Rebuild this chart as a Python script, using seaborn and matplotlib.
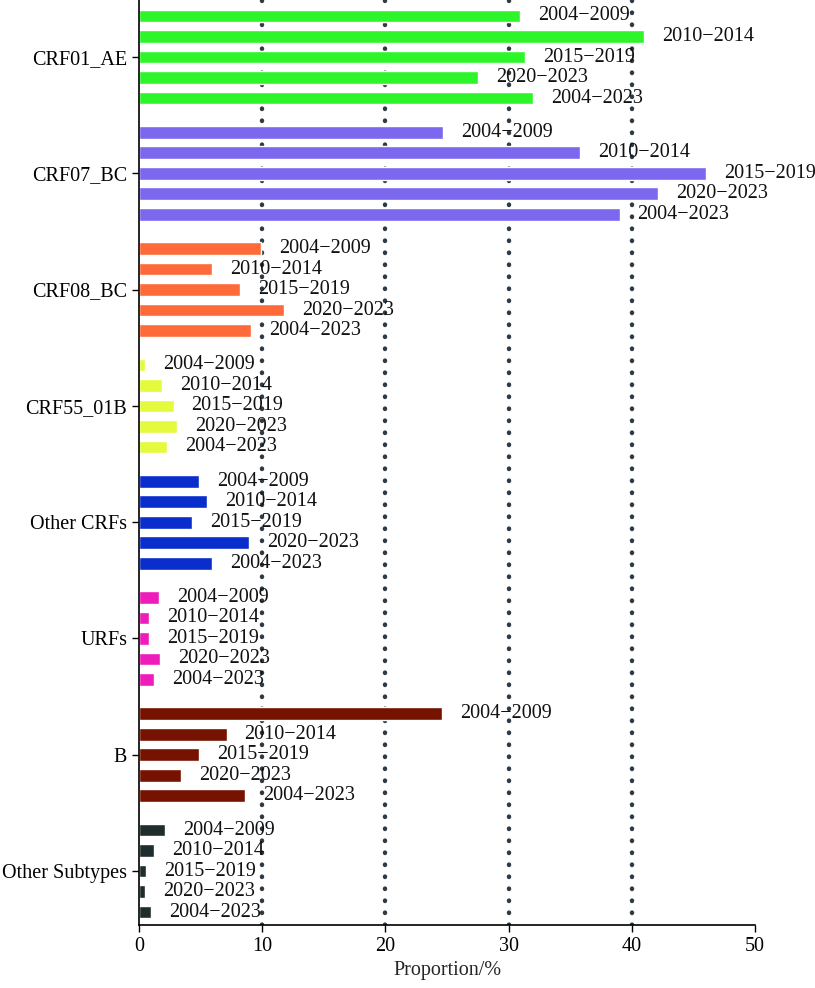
import matplotlib
matplotlib.use("Agg")
import matplotlib.pyplot as plt
import seaborn as sns
import numpy as np
import pandas as pd

# data
subtypes = ["CRF01_AE", "CRF07_BC", "CRF08_BC", "CRF55_01B",
            "Other CRFs", "URFs", "B", "Other Subtypes"]
periods = ["2004\u22122009", "2010\u22122014", "2015\u22122019",
           "2020\u22122023", "2004\u22122023"]

crf01_ae = [30.9, 41.0, 31.3, 27.5, 32.0]
crf07_bc = [24.7, 35.8, 46.0, 42.1, 39.0]
crf08_bc = [9.9, 5.9, 8.2, 11.8, 9.1]
crf55_01b = [0.5, 1.9, 2.8, 3.1, 2.3]
other_crfs = [4.9, 5.5, 4.3, 8.9, 5.9]
urfs = [1.6, 0.8, 0.8, 1.7, 1.2]
subtype_b = [24.6, 7.1, 4.9, 3.4, 8.6]
other_subtypes = [2.1, 1.2, 0.6, 0.5, 1.0]

colors = ["#2EF52A", "#7B68EE", "#FF6A3A", "#E4FA3C",
          "#0A2ECC", "#EE1CBB", "#761200", "#1F2D2D"]

values = [crf01_ae, crf07_bc, crf08_bc, crf55_01b,
          other_crfs, urfs, subtype_b, other_subtypes]

GROUP_STEP = 5.67
FS = 14.5

rows = []
for g, (name, vals) in enumerate(zip(subtypes, values)):
    for j, (p, v) in enumerate(zip(periods, vals)):
        rows.append({"subtype": name, "period": p, "value": v,
                     "pos": g * GROUP_STEP + j})
df = pd.DataFrame(rows)

sns.set_style("ticks")
plt.rcParams["font.family"] = ["Liberation Serif", "DejaVu Serif"]
plt.rcParams["font.size"] = FS

fig = plt.figure(figsize=(8.15, 9.88), dpi=100)
ax = fig.add_axes([0.1706, 0.0638, 0.7558, 0.9362])

# dotted reference lines behind the bars
for xv in [10, 20, 30, 40]:
    ax.axvline(xv, color="#2f3b44", linestyle=(0, (0.1, 2.6)),
               linewidth=3.2, dash_capstyle="round", zorder=0)

sns.barplot(data=df, x="value", y="pos", hue="subtype", orient="h",
            native_scale=True, palette=colors, width=0.62,
            legend=False, ax=ax, saturation=1, zorder=2)

for _, r in df.iterrows():
    ax.annotate(r["period"], (r["value"], r["pos"]), xytext=(13, 0),
                textcoords="offset points", va="center", ha="left",
                fontsize=FS, color="#111111", zorder=3)

ax.set_xlim(0, 50)
ax.set_ylim(df["pos"].max() + 0.63, -0.78)
ax.set_xticks([0, 10, 20, 30, 40, 50])
ax.set_yticks([g * GROUP_STEP + 2 for g in range(len(subtypes))])
ax.set_yticklabels(subtypes)
ax.set_xlabel("Proportion/%", fontsize=FS)
ax.set_ylabel("")
ax.tick_params(axis="both", labelsize=FS, length=5, width=1, colors="black")
sns.despine(ax=ax, top=True, right=True)
for s in ["left", "bottom"]:
    ax.spines[s].set_linewidth(1.2)
    ax.spines[s].set_color("black")

fig.savefig("out.png", dpi=100)
